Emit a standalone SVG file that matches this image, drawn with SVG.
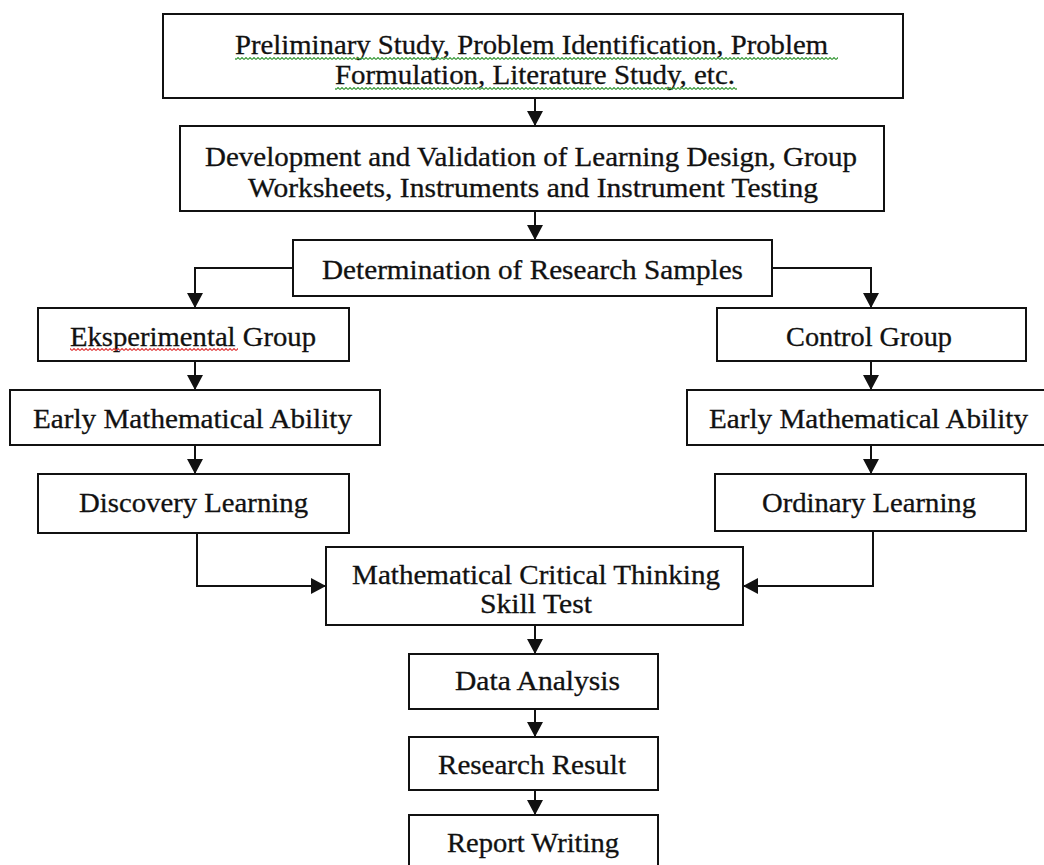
<svg xmlns="http://www.w3.org/2000/svg" width="1044" height="865" viewBox="0 0 1044 865">
<style>
.box{fill:#fff;stroke:#111;stroke-width:2}
.t{font-family:"Liberation Serif","Times New Roman",serif;font-size:27px;fill:#111;stroke:#111;stroke-width:0.3}
.c{fill:none;stroke:#111;stroke-width:2}
</style>
<defs>
<marker id="ah" markerWidth="15" markerHeight="16" refX="15" refY="8" orient="auto" markerUnits="userSpaceOnUse"><path d="M0,0 L15,8 L0,16 Z" fill="#111"/></marker>
<pattern id="wg" width="4" height="3" patternUnits="userSpaceOnUse"><path d="M0,2.5 L2,0.5 L4,2.5" fill="none" stroke="#3a9a3a" stroke-width="1.1"/></pattern>
<pattern id="wr" width="4" height="3" patternUnits="userSpaceOnUse"><path d="M0,2.5 L2,0.5 L4,2.5" fill="none" stroke="#e03a3a" stroke-width="1.1"/></pattern>
</defs>
<rect width="1044" height="865" fill="#fff"/>
<g id="connectors">
<path class="c" d="M535,98 V126" marker-end="url(#ah)"/>
<path class="c" d="M535,211 V240" marker-end="url(#ah)"/>
<path class="c" d="M293,268 H195 V308" marker-end="url(#ah)"/>
<path class="c" d="M772,268 H871 V308" marker-end="url(#ah)"/>
<path class="c" d="M195,361 V390" marker-end="url(#ah)"/>
<path class="c" d="M195,445 V474" marker-end="url(#ah)"/>
<path class="c" d="M871,361 V390" marker-end="url(#ah)"/>
<path class="c" d="M871,445 V474" marker-end="url(#ah)"/>
<path class="c" d="M197,533 V586 H326" marker-end="url(#ah)"/>
<path class="c" d="M873,531 V586 H743" marker-end="url(#ah)"/>
<path class="c" d="M535,625 V654" marker-end="url(#ah)"/>
<path class="c" d="M535,709 V737" marker-end="url(#ah)"/>
<path class="c" d="M535,790 V815" marker-end="url(#ah)"/>
</g>
<g id="n1">
<rect class="box" x="163" y="14" width="740" height="84"/>
<text class="t" x="235" y="54" textLength="593" lengthAdjust="spacingAndGlyphs">Preliminary Study, Problem Identification, Problem</text>
<text class="t" x="335" y="84" textLength="400" lengthAdjust="spacingAndGlyphs">Formulation, Literature Study, etc.</text>
<rect x="235" y="57" width="603" height="3" fill="url(#wg)"/>
<rect x="335" y="87" width="402" height="3" fill="url(#wg)"/>
</g>
<g id="n2">
<rect class="box" x="180" y="126" width="704" height="85"/>
<text class="t" x="205" y="166" textLength="652" lengthAdjust="spacingAndGlyphs">Development and Validation of Learning Design, Group</text>
<text class="t" x="248" y="197" textLength="570" lengthAdjust="spacingAndGlyphs">Worksheets, Instruments and Instrument Testing</text>
</g>
<g id="n3">
<rect class="box" x="293" y="240" width="479" height="56"/>
<text class="t" x="322" y="279" textLength="421" lengthAdjust="spacingAndGlyphs">Determination of Research Samples</text>
</g>
<g id="n4">
<rect class="box" x="38" y="308" width="311" height="53"/>
<text class="t" x="70" y="346" textLength="246" lengthAdjust="spacingAndGlyphs">Eksperimental Group</text>
<rect x="70" y="348" width="168" height="3" fill="url(#wr)"/>
</g>
<g id="n5">
<rect class="box" x="717" y="308" width="309" height="53"/>
<text class="t" x="786" y="346" textLength="166" lengthAdjust="spacingAndGlyphs">Control Group</text>
</g>
<g id="n6">
<rect class="box" x="10" y="390" width="370" height="55"/>
<text class="t" x="33" y="428" textLength="319" lengthAdjust="spacingAndGlyphs">Early Mathematical Ability</text>
</g>
<g id="n7">
<rect class="box" x="687" y="390" width="360" height="55"/>
<text class="t" x="709" y="428" textLength="319" lengthAdjust="spacingAndGlyphs">Early Mathematical Ability</text>
</g>
<g id="n8">
<rect class="box" x="38" y="474" width="311" height="59"/>
<text class="t" x="79" y="512" textLength="229" lengthAdjust="spacingAndGlyphs">Discovery Learning</text>
</g>
<g id="n9">
<rect class="box" x="715" y="474" width="311" height="57"/>
<text class="t" x="762" y="512" textLength="214" lengthAdjust="spacingAndGlyphs">Ordinary Learning</text>
</g>
<g id="n10">
<rect class="box" x="326" y="547" width="417" height="78"/>
<text class="t" x="352" y="584" textLength="368" lengthAdjust="spacingAndGlyphs">Mathematical Critical Thinking</text>
<text class="t" x="480" y="613" textLength="112" lengthAdjust="spacingAndGlyphs">Skill  Test</text>
</g>
<g id="n11">
<rect class="box" x="409" y="654" width="249" height="55"/>
<text class="t" x="455" y="690" textLength="165" lengthAdjust="spacingAndGlyphs">Data Analysis</text>
</g>
<g id="n12">
<rect class="box" x="409" y="737" width="249" height="53"/>
<text class="t" x="438" y="774" textLength="188" lengthAdjust="spacingAndGlyphs">Research Result</text>
</g>
<g id="n13">
<rect class="box" x="409" y="815" width="249" height="60"/>
<text class="t" x="447" y="852" textLength="172" lengthAdjust="spacingAndGlyphs">Report Writing</text>
</g>
</svg>
